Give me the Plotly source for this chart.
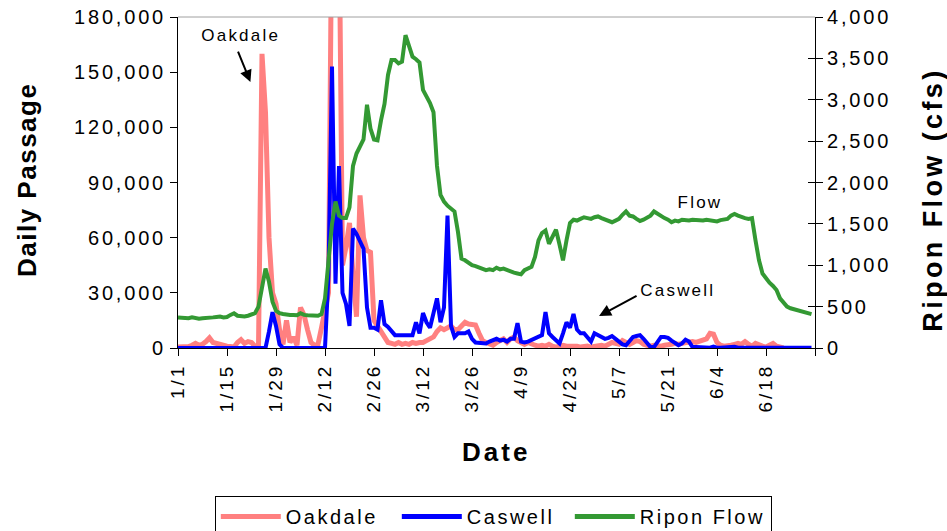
import pandas as pd
import plotly.graph_objects as go

# ---------------- data (daily values, day 0 = Jan 1) ----------------
start_date = "2001-01-01"

oakdale = [
    500, 500, 500, 800, 1500, 2500, 1500, 2000, 3500, 5500,
    3000, 2500, 1500, 1500, 1000, 800, 500, 3000, 4500, 2500,
    3500, 3000, 1000, 500, 160000, 128000, 60000, 30000, 24000, 10000,
    2000, 15000, 3000, 6000, 1500, 22000, 18000, 10000, 3000, 1500,
    2000, 11000, 20000, 30000, 250000, 200000, 240000, 45000, 55000, 68000,
    40000, 17000, 83000, 60000, 53000, 52000, 15000, 12000, 10000, 6000,
    3000, 2500, 2000, 3000, 2000, 2500, 2000, 3000, 2500, 3000,
    3000, 4000, 5000, 6000, 9000, 11000, 10000, 11000, 12000, 10000,
    10000, 12000, 14000, 13000, 12500, 12500, 8000, 4000, 3000, 2000,
    1500, 3000, 4000, 5000, 3000, 5000, 6000, 4000, 3000, 2000,
    3000, 2000, 1500, 1000, 1500, 1000, 2000, 1000, 500, 1000,
    1500, 1000, 1000, 1500, 1000, 500, 800, 1000, 500, 1000,
    800, 1500, 1000, 2000, 3000, 2500, 2000, 4000, 3000, 2000,
    3000, 4000, 3500, 2000, 1500, 1000, 1500, 1000, 1000, 1500,
    1500, 2000, 2500, 2000, 2500, 3000, 3000, 3500, 3000, 3500,
    4000, 5000, 8000, 7500, 3000, 1500, 1000, 1000, 1500, 2000,
    2500, 2000, 3500, 2000, 1000, 2500, 1500, 1000, 500, 1500,
    2500, 1000, 500, 0,
]

caswell = [
    0, 0, 0, 0, 0, 0, 0, 0, 0, 0,
    0, 0, 0, 0, 0, 0, 0, 0, 0, 0,
    0, 0, 0, 0, 0, 0, 9000, 19500, 12000, 2000,
    0, 0, 0, 0, 0, 0, 0, 0, 0, 0,
    0, 0, 0, 40000, 153000, 35000, 99000, 30000, 24000, 12000,
    65000, 62000, 58000, 54000, 22000, 11000, 11000, 10000, 26000, 13000,
    11500, 9000, 7000, 7000, 7000, 7000, 7000, 7000, 14000, 8000,
    19000, 14000, 11000, 20000, 27000, 14000, 22000, 72000, 12000, 6000,
    8000, 8000, 8000, 9000, 5000, 3000, 3000, 3000, 2500, 3500,
    4000, 5000, 4000, 4500, 3500, 5000, 5000, 13500, 3500, 3000,
    3500, 4500, 5500, 6500, 7000, 19500, 8000, 6000, 4000, 2500,
    8000, 14000, 11000, 18500, 10000, 8000, 8000, 6000, 3500, 8000,
    7000, 6000, 5000, 5500, 6500, 5000, 3500, 2000, 1500, 4000,
    6000, 6500, 7000, 5000, 2500, 500, 500, 3000, 6000, 6000,
    5500, 4000, 2500, 1500, 2500, 4500, 3500, 500, 500, 300,
    300, 300, 200, 800, 200, 200, 300, 200, 200, 700,
    200, 200, 200, 200, 200, 100, 100, 100, 100, 100,
    100, 100, 100, 100, 100, 100, 100, 100, 100, 100, 100, 100,
]

ripon_flow = [
    370, 365, 355, 360, 370, 360, 355, 360, 360, 360,
    370, 375, 380, 370, 375, 400, 420, 390, 380, 380,
    390, 400, 420, 500, 750, 960, 800, 560, 450, 420,
    410, 400, 400, 400, 395, 420, 400, 395, 390, 390,
    390, 410, 600, 1050, 1500, 1770, 1600, 1570, 1570, 1700,
    2200, 2350, 2450, 2520, 2940, 2650, 2520, 2510, 2750, 2950,
    3300, 3480, 3480, 3440, 3460, 3780, 3650, 3520, 3490, 3450,
    3120, 3050, 2960, 2850, 2200, 1850, 1770, 1720, 1690, 1650,
    1400, 1080, 1060, 1030, 1000, 990, 970, 955, 940, 950,
    940, 970, 950, 960, 940, 930, 910, 900, 890, 940,
    965, 980, 1100, 1300, 1390, 1420, 1260, 1350, 1430, 1250,
    1060, 1300, 1510, 1550, 1540, 1560, 1580, 1570, 1560, 1580,
    1590, 1570, 1550, 1530, 1520, 1540, 1560, 1610, 1650, 1600,
    1590, 1560, 1535, 1550, 1580, 1600, 1650, 1620, 1600, 1570,
    1550, 1520, 1540, 1530, 1550, 1545, 1540, 1550, 1545, 1550,
    1540, 1550, 1545, 1540, 1530, 1545, 1550, 1560, 1600, 1620,
    1600, 1580, 1570, 1560, 1570, 1300, 1060, 900, 840, 790,
    750, 700, 600, 540, 500, 480, 470, 460, 450, 435, 420, 410,
]

tick_days = [0, 14, 28, 42, 56, 70, 84, 98, 112, 126, 140, 154, 168, 182]
tick_labels = ["1/1", "1/15", "1/29", "2/12", "2/26", "3/12", "3/26",
               "4/9", "4/23", "5/7", "5/21", "6/4", "6/18", ""]

left_ticks = [0, 30000, 60000, 90000, 120000, 150000, 180000]
right_ticks = [0, 500, 1000, 1500, 2000, 2500, 3000, 3500, 4000]

# ---------------- figure ----------------
t0 = pd.Timestamp(start_date)


def to_dates(values):
    return [t0 + pd.Timedelta(days=i) for i in range(len(values))]


FONT = "Liberation Sans, Arial, Helvetica, sans-serif"

fig = go.Figure()
fig.add_trace(go.Scatter(x=to_dates(oakdale), y=oakdale, name="Oakdale", mode="lines",
                         line=dict(color="#FF8080", width=5), legendwidth=106))
fig.add_trace(go.Scatter(x=to_dates(caswell), y=caswell, name="Caswell", mode="lines",
                         line=dict(color="#0000FF", width=4), legendwidth=98))
fig.add_trace(go.Scatter(x=to_dates(ripon_flow), y=ripon_flow, name="Ripon Flow", mode="lines",
                         yaxis="y2", line=dict(color="#339933", width=4), legendwidth=126))
# helper trace (no data) so the inner half of the right-axis ticks is drawn
fig.add_trace(go.Scatter(x=[None], y=[None], yaxis="y3", mode="lines",
                         showlegend=False, hoverinfo="skip"))

right_axis_common = dict(
    automargin=False, overlaying="y", side="right",
    range=[0, 4000], tickvals=right_ticks, tickformat=",",
    tickfont=dict(size=20), ticklen=7, tickcolor="black",
    showgrid=False, zeroline=False,
)

fig.update_layout(
    width=947, height=531,
    margin=dict(l=178, r=132, t=17, b=183, autoexpand=False),
    paper_bgcolor="white", plot_bgcolor="white",
    font=dict(family=FONT, color="black", size=18),
    showlegend=True,
    legend=dict(orientation="h", x=0.495, xanchor="center", y=-0.447, yanchor="top",
                bordercolor="black", borderwidth=1, font=dict(size=20),
                itemwidth=60, entrywidthmode="pixels",
                itemsizing="constant", tracegroupgap=0),
    xaxis=dict(
        type="date", automargin=False,
        range=[t0, t0 + pd.Timedelta(days=tick_days[-1])],
        tickvals=[t0 + pd.Timedelta(days=d) for d in tick_days],
        ticktext=tick_labels,
        tickangle=-90, tickfont=dict(size=19),
        ticks="outside", ticklen=7, tickcolor="black",
        showline=True, linecolor="black", linewidth=1,
        showgrid=False, zeroline=False,
    ),
    yaxis=dict(
        automargin=False,
        range=[0, 180000], tickvals=left_ticks, tickformat=",",
        tickfont=dict(size=20),
        ticks="outside", ticklen=7, tickcolor="black",
        showline=True, linecolor="black", linewidth=1,
        showgrid=False, zeroline=False,
    ),
    yaxis2=dict(ticks="outside", showline=True, linecolor="black", linewidth=1,
                **right_axis_common),
    yaxis3=dict(ticks="inside", showline=False, showticklabels=False,
                **right_axis_common),
    shapes=[dict(type="line", xref="paper", yref="paper", x0=0, x1=1, y0=1, y1=1,
                 line=dict(color="#A0A0A0", width=1))],
)

C = dict(xanchor="center", yanchor="middle", showarrow=False)
annotations = [
    # axis titles
    dict(text="<b>Daily Passage</b>", xref="paper", yref="paper", x=-0.238, y=0.508,
         textangle=-90, font=dict(size=26), **C),
    dict(text="<b>Ripon Flow (cfs)</b>", xref="paper", yref="paper", x=1.186, y=0.45,
         textangle=-90, font=dict(size=27), **C),
    dict(text="<b>Date</b>", xref="paper", yref="paper", x=0.4996, y=-0.314,
         font=dict(size=26), **C),
    # labels
    dict(text="Oakdale", xref="paper", yref="paper", x=0.098, y=0.943,
         font=dict(size=17), **C),
    dict(text="Caswell", xref="paper", yref="paper", x=0.785, y=0.175,
         font=dict(size=17), **C),
    dict(text="Flow", xref="paper", yref="paper", x=0.8196, y=0.441,
         font=dict(size=17), **C),
    # arrows
    dict(text="", xref="paper", yref="paper", x=0.1137, y=0.8036, ax=-13, ay=-32,
         showarrow=True, arrowhead=2, arrowsize=1.2, arrowwidth=2, arrowcolor="black", standoff=0),
    dict(text="", xref="paper", yref="paper", x=0.661, y=0.0967, ax=39, ay=-21,
         showarrow=True, arrowhead=2, arrowsize=1.2, arrowwidth=2, arrowcolor="black", standoff=0),
]
fig.update_layout(annotations=annotations)

post = """
document.documentElement.style.margin = '0';
document.documentElement.style.padding = '0';
document.body.style.margin = '0';
document.body.style.padding = '0';
document.body.style.overflow = 'hidden';
var gd = document.getElementById('{plot_id}');
function ls(sel, v) { gd.querySelectorAll(sel).forEach(function(t) { t.style.letterSpacing = v; }); }
ls('.xtick text', '3px');
ls('.ytick text', '2.8px');
ls('.y2tick text', '2.8px');
ls('.legendtext', '2.5px');
ls('.annotation[data-index="0"] text', '1.5px');
ls('.annotation[data-index="1"] text', '3.4px');
ls('.annotation[data-index="2"] text', '3px');
ls('.annotation[data-index="3"] text', '2.2px');
ls('.annotation[data-index="4"] text', '2.2px');
ls('.annotation[data-index="5"] text', '2.2px');
"""

fig.write_html("out.html", post_script=post, config={"displayModeBar": False})
